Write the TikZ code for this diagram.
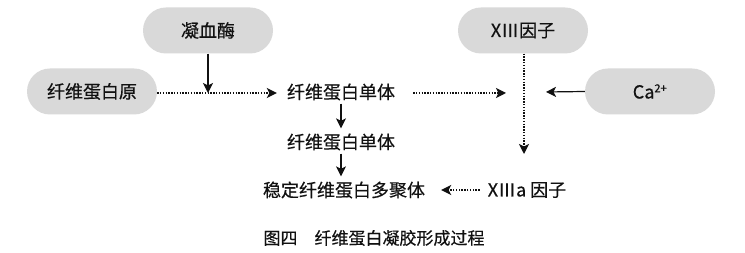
\documentclass[tikz,border=0pt]{standalone}
\usepackage{fontspec}
\setmainfont[RawFeature={embolden=0.4}]{Noto Sans CJK SC}
\usetikzlibrary{arrows.meta}
\definecolor{boxgray}{HTML}{D9D9D9}
\definecolor{inkc}{HTML}{111111}
\tikzset{
  box/.style={fill=boxgray, rounded corners=23pt, minimum width=130pt, minimum height=46pt, inner sep=0pt, text=inkc},
  txt/.style={inner sep=0pt, text=inkc},
  solidarrow/.style={draw=inkc, line width=1.2pt, -{Stealth[length=10pt,width=10pt,inset=2.5pt]}},
  dotarrow/.style={draw=inkc, line width=1.3pt, dash pattern=on 1.3pt off 1.5pt, -{Stealth[length=10pt,width=10pt,inset=2.5pt]}}
}
\begin{document}
\begin{tikzpicture}[x=1pt,y=-1pt,font=\fontsize{18}{20}\selectfont]
\useasboundingbox[fill=white] (0,0) rectangle (745,253);
\node[box] (thr) at (208,30.5) {凝血酶};
\node[box] (fbg) at (92,91.5) {纤维蛋白原};
\node[box] (f13) at (523,30.5) {XⅢ因子};
\node[box] (ca) at (650,91.5) {Ca\textsuperscript{\fontsize{11}{12}\selectfont 2+}};
\node[txt] (m1) at (341,92) {纤维蛋白单体};
\node[txt] (m2) at (341,142) {纤维蛋白单体};
\node[txt] (m3) at (344,190) {稳定纤维蛋白多聚体};
\node[txt] (f13a) at (527,190) {XⅢa 因子};
\node[txt, font=\fontsize{17}{18}\selectfont] (cap) at (374,238) {图四　纤维蛋白凝胶形成过程};
\coordinate (t) at (208,93);
\coordinate (jl) at (506,93);
\coordinate (jr) at (546,92);
\coordinate (jb) at (524,154);
\draw[dotarrow] ([yshift=-1.5pt]fbg.east) -- ([xshift=-10pt,yshift=-1pt]m1.west);
\draw[solidarrow] (thr.south) -- (t);
\draw[dotarrow] ([xshift=18pt,yshift=-1pt]m1.east) -- (jl);
\draw[solidarrow] (ca.west) -- (jr);
\draw[dotarrow] ([xshift=1pt]f13.south) -- (jb);
\draw[solidarrow] ([yshift=-3pt]m1.south) -- ([yshift=5pt]m2.north);
\draw[solidarrow] ([yshift=-3pt]m2.south) -- ([yshift=5pt]m2.south |- m3.north);
\draw[dotarrow] ([xshift=-8pt]f13a.west) -- ([xshift=16pt]m3.east);
\end{tikzpicture}
\end{document}
